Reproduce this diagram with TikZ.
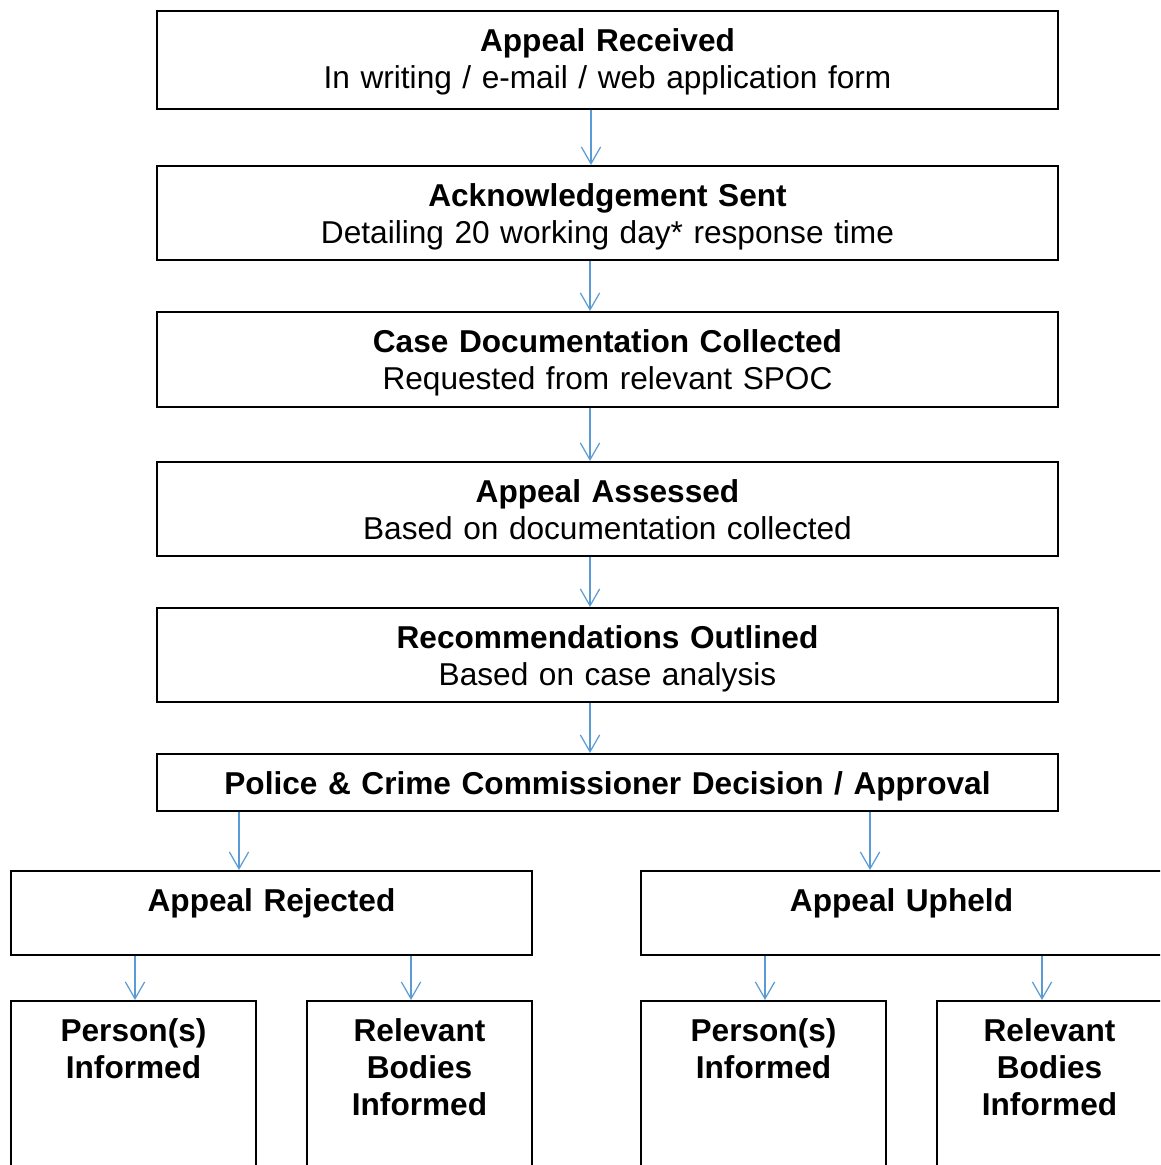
\documentclass[tikz,border=0pt]{standalone}
\usepackage{fontspec}
\setmainfont{Liberation Sans}
\usetikzlibrary{arrows.meta}
\definecolor{flowblue}{HTML}{5B9BD5}
\tikzset{
  box/.style={draw, line width=1.1pt, inner sep=0pt, anchor=north, align=center,
    text height=0.82cm, font=\fontsize{18}{21}\selectfont},
  flow/.style={draw=flowblue, line width=0.7pt,
    -{Straight Barb[length=9.6pt,width=11pt]}}
}

\begin{document}
\begin{tikzpicture}[x=0.02cm,y=-0.02cm]
\useasboundingbox (0,0) rectangle (1160,1165);
\clip (0,0) rectangle (1160,1165);
\node[box, text width=18.02cm, text depth=1.14cm] (rec) at (607.5,10)
  {\textbf{Appeal Received}\\In writing / e-mail / web application form};
\node[box, text width=18.02cm, text depth=1.06cm] (ack) at (607.5,165)
  {\textbf{Acknowledgement Sent}\\Detailing 20 working day* response time};
\node[box, text width=18.02cm, text depth=1.08cm] (doc) at (607.5,311)
  {\textbf{Case Documentation Collected}\\Requested from relevant SPOC};
\node[box, text width=18.02cm, text depth=1.06cm] (ass) at (607.5,461)
  {\textbf{Appeal Assessed}\\Based on documentation collected};
\node[box, text width=18.02cm, text depth=1.06cm] (recom) at (607.5,607)
  {\textbf{Recommendations Outlined}\\Based on case analysis};
\node[box, text width=18.02cm, text depth=0.32cm] (pcc) at (607.5,753)
  {\textbf{Police \& Crime Commissioner Decision / Approval}};
% outcome
\node[box, text width=10.42cm, text depth=0.86cm] (rej) at (271.5,870) {\textbf{Appeal Rejected}};
\node[box, text width=10.42cm, text depth=0.86cm] (uph) at (901.5,870) {\textbf{Appeal Upheld}};
\node[box, text width=4.9cm, text depth=3.18cm] (rejp) at (133.5,1000) {\textbf{Person(s)\\Informed}};
\node[box, text width=4.5cm, text depth=3.18cm] (rejb) at (419.5,1000) {\textbf{Relevant\\Bodies\\Informed}};
\node[box, text width=4.9cm, text depth=3.18cm] (uphp) at (763.5,1000) {\textbf{Person(s)\\Informed}};
\node[box, text width=4.5cm, text depth=3.18cm] (uphb) at (1049.5,1000) {\textbf{Relevant\\Bodies\\Informed}};
\foreach \s/\t/\x in
{
rec/ack/591, ack/doc/590, doc/ass/590, ass/recom/590, recom/pcc/590,
pcc/rej/239, pcc/uph/870,
rej/rejp/135, rej/rejb/411, uph/uphp/765, uph/uphb/1042
}
{
\draw[flow] (\x,0 |- \s.south) -- (\x,0 |- \t.north);
}
\end{tikzpicture}
\end{document}
